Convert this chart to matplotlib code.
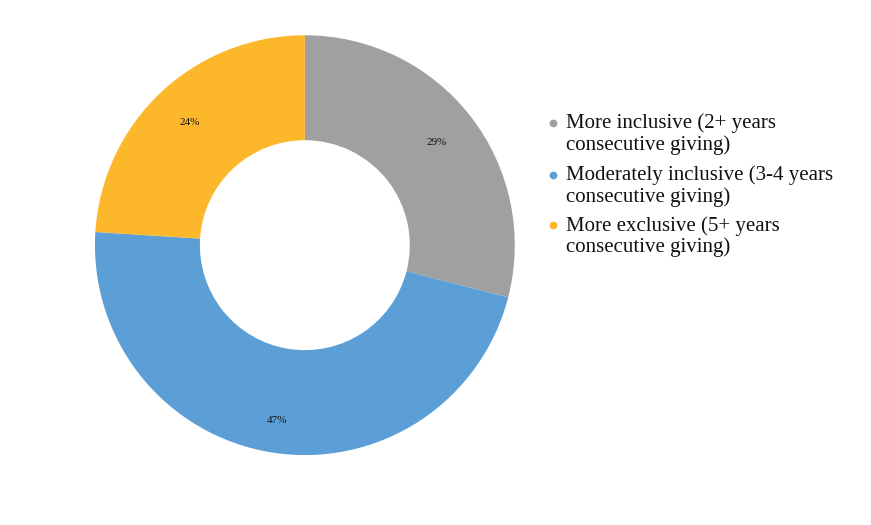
import numpy as np
import matplotlib.pyplot as plt
from matplotlib.lines import Line2D

labels = ['More inclusive (2+ years\nconsecutive giving)',
          'Moderately inclusive (3-4 years\nconsecutive giving)',
          'More exclusive (5+ years\nconsecutive giving)']
values = [29, 47, 24]
colors = ['#A0A0A0', '#5B9FD6', '#FDB72B']

plt.rcParams['font.family'] = ['Liberation Serif', 'DejaVu Serif']

W, H = 871, 525
fig = plt.figure(figsize=(W / 100, H / 100), dpi=100)
ax = fig.add_axes([0.109, 0.133, 0.482, 0.8])

wedges, texts = ax.pie(values, colors=colors, startangle=90, counterclock=False,
                       radius=1.0, wedgeprops=dict(width=0.5, linewidth=0))
label_r = [0.795, 0.845, 0.8]
for w, v, r in zip(wedges, values, label_r):
    ang = np.deg2rad((w.theta1 + w.theta2) / 2)
    ax.text(r * np.cos(ang), r * np.sin(ang), f'{v}%', ha='center', va='center',
            fontsize=8, color='#111111')
ax.set_xlim(-1, 1)
ax.set_ylim(-1, 1)
ax.set_aspect('equal')
ax.axis('off')

# legend drawn by hand so the dot sits on the first line
base = [128.3, 180, 230.7]
for lab, c, b in zip(labels, colors, base):
    fig.add_artist(Line2D([552.7 / W], [1 - (b - 5.5) / H], marker='o',
                          linestyle='', markersize=5.6, markerfacecolor=c,
                          markeredgewidth=0, transform=fig.transFigure))
    for i, line in enumerate(lab.split('\n')):
        fig.text(565.5 / W, 1 - (b + 21.7 * i) / H, line, ha='left',
                 va='baseline', fontsize=15, color='#111111')

fig.savefig('out.png', dpi=100)
